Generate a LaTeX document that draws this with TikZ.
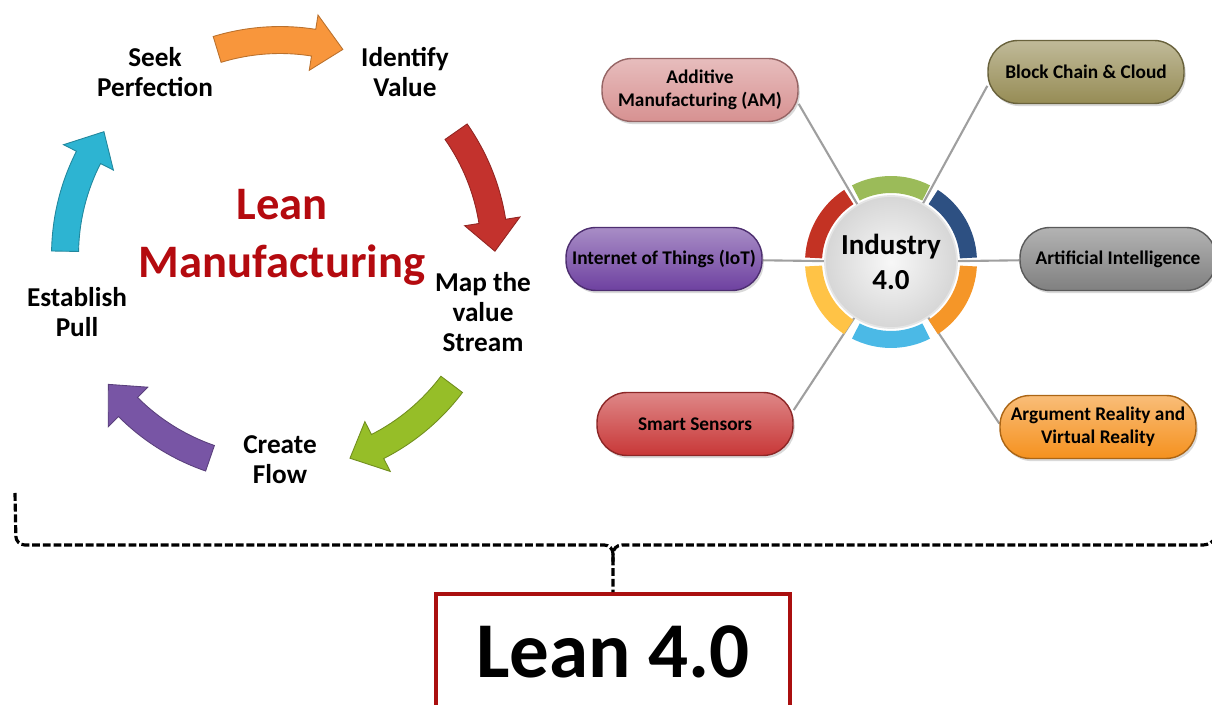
\documentclass[tikz,border=0pt]{standalone}
\usepackage{fontspec}
\setmainfont{Carlito}
\usepackage{tikz}
\usetikzlibrary{positioning,backgrounds,shadows}
\usepackage{xcolor}
\definecolor{leanorange}{RGB}{248,150,60}
\definecolor{leanred}{RGB}{195,50,45}
\definecolor{leangreen}{RGB}{150,190,40}
\definecolor{leanpurple}{RGB}{120,85,165}
\definecolor{leancyan}{RGB}{45,180,210}
\definecolor{leantitle}{RGB}{180,10,15}
\definecolor{ringblue}{RGB}{45,80,130}
\definecolor{ringgreen}{RGB}{155,187,89}
\definecolor{ringred}{RGB}{195,50,35}
\definecolor{ringyellow}{RGB}{255,195,70}
\definecolor{ringcyan}{RGB}{75,185,230}
\definecolor{ringorange}{RGB}{245,150,40}
\definecolor{ampink}{RGB}{215,145,145}
\definecolor{blockolive}{RGB}{150,140,85}
\definecolor{iotpurple}{RGB}{110,65,160}
\definecolor{aigray}{RGB}{128,128,128}
\definecolor{sensorred}{RGB}{200,55,55}
\definecolor{arorange}{RGB}{245,145,30}
\definecolor{boxred}{RGB}{170,15,15}

% curved block arrow of the cycle, #1 = centre angle, #2 = colour
\newcommand{\leanarrow}[2]{%
  \fill[#2, draw=#2!75!black, line width=0.5pt]
    ({#1+17}:4.57cm) arc[start angle={#1+17}, end angle={#1-9}, radius=4.57cm]
    -- ({#1-9}:4.86cm) -- ({#1-17}:4.3cm) -- ({#1-9}:3.74cm)
    -- ({#1-9}:4.03cm) arc[start angle={#1-9}, end angle={#1+17}, radius=4.03cm]
    -- cycle;}
% one coloured part of the ring, #1 = start angle, #2 = colour
\newcommand{\ringpart}[2]{%
  \fill[#2] ({#1+3}:1.72cm) arc[start angle={#1+3}, end angle={#1+57}, radius=1.72cm]
    -- ({#1+57}:1.38cm) arc[start angle={#1+57}, end angle={#1+3}, radius=1.38cm] -- cycle;}

\begin{document}
\begin{tikzpicture}[x=0.02cm, y=0.02cm,
    stage/.style={font=\bfseries\fontsize{15.5}{17}\selectfont, align=center},
    pill/.style={rectangle, rounded corners=0.6cm, minimum width=3.92cm, minimum height=1.26cm,
      inner xsep=1pt, align=center, font=\bfseries\fontsize{11}{13}\selectfont,
      top color=#1!60!white, bottom color=#1, draw=#1!70!black, line width=0.8pt,
      drop shadow={shadow xshift=1pt, shadow yshift=-1.5pt, opacity=0.3}},
    spoke/.style={draw=gray!75, line width=1.2pt},
    brace/.style={line width=1.8pt, dash pattern=on 4.5pt off 1.6pt, rounded corners=5pt}
]
\useasboundingbox (0,0) rectangle (1212,705);

% Lean cycle
\begin{scope}[shift={(280,450)}]
\leanarrow{90}{leanorange}
\leanarrow{18}{leanred}
\leanarrow{-54}{leangreen}
\leanarrow{-126}{leanpurple}
\leanarrow{162}{leancyan}
\end{scope}

\node[font=\bfseries\fontsize{26.5}{33}\selectfont, text=leantitle, align=center] (leanman) at (282,468) {Lean\\Manufacturing};

\node[stage] (seek) at (155,633) {Seek\\Perfection};
\node[stage] (identify) at (405,633) {Identify\\Value};
\node[stage] (map) at (483,393) {Map the\\value\\Stream};
\node[stage] (flow) at (280,245) {Create\\Flow};
\node[stage] (pull) at (77,393) {Establish\\Pull};

% Industry 4.0 hub
\node[circle, minimum size=2.64cm, inner color=gray!6, outer color=gray!32, draw=white!80!gray, line width=1pt,
  font=\bfseries\fontsize{16.5}{20}\selectfont, align=center] (hub) at (891,443) {Industry\\4.0};
\begin{scope}[shift={(891,443)}]
\ringpart{0}{ringblue}
\ringpart{60}{ringgreen}
\ringpart{120}{ringred}
\ringpart{180}{ringyellow}
\ringpart{240}{ringcyan}
\ringpart{300}{ringorange}
\end{scope}

\node[pill=ampink] (am) at (700,615) {Additive\\Manufacturing (AM)};
\node[pill=blockolive] (block) at (1086,633) {Block Chain \& Cloud};
\node[pill=iotpurple] (iot) at (664,446) {Internet of Things (IoT)};
\node[pill=aigray] (ai) at (1118,446) {Artificial Intelligence};
\node[pill=sensorred] (sensors) at (695,281) {Smart Sensors};
\node[pill=arorange] (ar) at (1098,278) {Argument Reality and\\Virtual Reality};

\begin{scope}[on background layer]
\draw[spoke] (am.-8) -- (hub);
\draw[spoke] (block.188) -- (hub);
\draw[spoke] (iot) -- (hub);
\draw[spoke] (hub) -- (ai);
\draw[spoke] (sensors.8) -- (hub);
\draw[spoke] (ar.178) -- (hub);
\end{scope}

% Lean 4.0 and the brace
\node[draw=boxred, line width=2pt, minimum width=7.08cm, minimum height=2.32cm,
  font=\bfseries\fontsize{45}{50}\selectfont] (lean4) at (613,53) {Lean 4.0};

\coordinate (braceL) at (15,212);
\coordinate (braceR) at (1216,168);
\draw[brace] (braceL) -- (16,160) -- (613,160) -- (lean4.north);
\draw[brace] (braceR) -- (1212,160) -- (613,160) -- (613,140);

\end{tikzpicture}
\end{document}
